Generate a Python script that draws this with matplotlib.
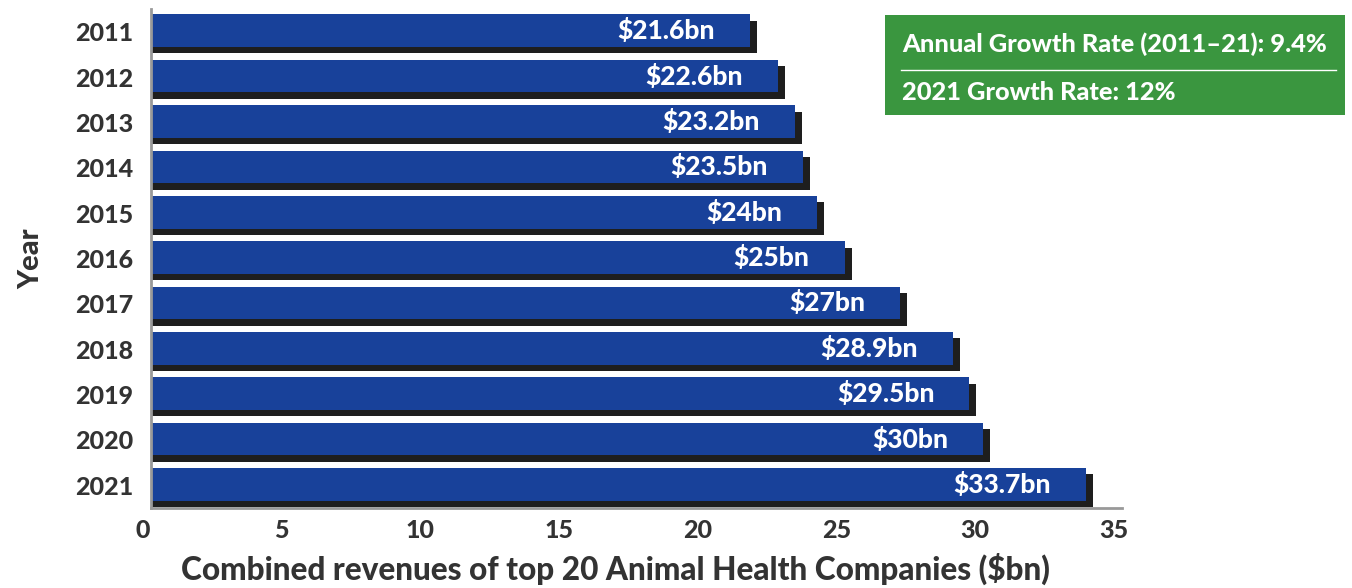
import matplotlib
matplotlib.use('Agg')
import matplotlib.pyplot as plt
from matplotlib.patches import Rectangle
import matplotlib.transforms as mtransforms
import numpy as np

plt.rcParams['text.parse_math'] = False
plt.rcParams['font.family'] = ['Lato', 'DejaVu Sans']

years = ['2011', '2012', '2013', '2014', '2015', '2016', '2017', '2018', '2019', '2020', '2021']
revenues = [21.6, 22.6, 23.2, 23.5, 24, 25, 27, 28.9, 29.5, 30, 33.7]
value_labels = ['$21.6bn', '$22.6bn', '$23.2bn', '$23.5bn', '$24bn', '$25bn',
                '$27bn', '$28.9bn', '$29.5bn', '$30bn', '$33.7bn']
x_ticks = [0, 5, 10, 15, 20, 25, 30, 35]
box_lines = ['Annual Growth Rate (2011\u201321): 9.4%', '2021 Growth Rate: 12%']

W, H = 1352, 588
fig = plt.figure(figsize=(W / 100, H / 100), dpi=100)
ax = fig.add_axes([151 / W, (H - 508) / H, (1122 - 151) / W, (508 - 9) / H])

BAR = '#18419a'
SHADOW = '#1e1e1e'
TXT = '#333333'
WEIGHT = 900

y = np.arange(len(years))
h = 0.72
dx, dy = 0.25, 0.14
ax.barh(y + dy - 0.02, np.array(revenues) + dx, height=h, color=SHADOW, zorder=2)
ax.barh(y - 0.02, revenues, height=h, color=BAR, zorder=3)

for yi, v, lab in zip(y, revenues, value_labels):
    ax.annotate(lab, xy=(v, yi - 0.02), xytext=(-35, 0), textcoords='offset pixels',
                ha='right', va='center', color='white', fontsize=19, fontweight=WEIGHT, zorder=4)

ax.set_xlim(0, 35)
ax.set_ylim(len(years) - 0.5, -0.5)
ax.set_yticks(y)
ax.set_yticklabels(years)
ax.set_xticks(x_ticks)
ax.set_xticklabels([str(t) for t in x_ticks])
ax.tick_params(axis='both', length=0, labelsize=18, labelcolor=TXT)
ax.tick_params(axis='y', pad=13)
ax.tick_params(axis='x', pad=8)
shift = mtransforms.ScaledTranslation(-8 / 100, 0, fig.dpi_scale_trans)
for lbl in ax.get_xticklabels():
    lbl.set_fontweight(WEIGHT)
    lbl.set_transform(lbl.get_transform() + shift)
for lbl in ax.get_yticklabels():
    lbl.set_fontweight(WEIGHT)
for s in ['top', 'right']:
    ax.spines[s].set_visible(False)
for s in ['left', 'bottom']:
    ax.spines[s].set_color('#999999')
    ax.spines[s].set_linewidth(2)
    ax.spines[s].set_zorder(5)

ax.set_xlabel('Combined revenues of top 20 Animal Health Companies ($bn)',
              fontsize=22.7, fontweight=WEIGHT, color=TXT, labelpad=8)
ax.xaxis.label.set_x(0.478)
ax.set_ylabel('Year', fontsize=21, fontweight=WEIGHT, color=TXT, labelpad=22)

# green info box
bx0, by0, bx1, by1 = 885, 15, 1345, 115
fig.patches.append(Rectangle((bx0 / W, 1 - by1 / H), (bx1 - bx0) / W, (by1 - by0) / H,
                             transform=fig.transFigure, facecolor='#3a963f', edgecolor='none', zorder=10))
fig.text(902 / W, 1 - 44 / H, box_lines[0], color='white', fontsize=18.3, fontweight=WEIGHT,
         va='center', ha='left', zorder=11)
fig.add_artist(plt.Line2D([901 / W, 1336 / W], [1 - 70 / H, 1 - 70 / H], transform=fig.transFigure,
                          color='white', linewidth=1, zorder=11))
fig.text(902 / W, 1 - 93 / H, box_lines[1], color='white', fontsize=18.3, fontweight=WEIGHT,
         va='center', ha='left', zorder=11)

fig.savefig('out.png', dpi=100)
